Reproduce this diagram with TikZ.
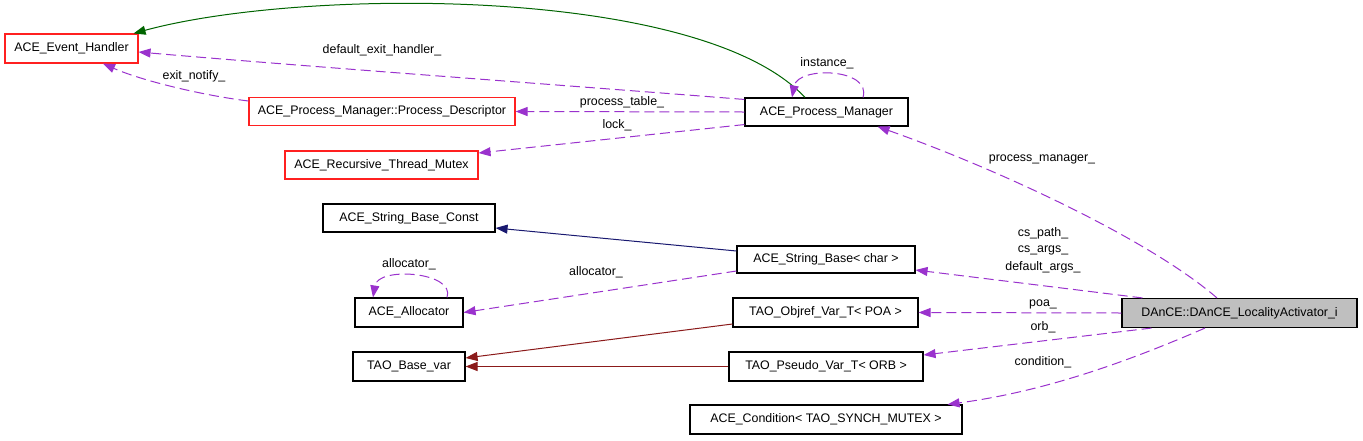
\documentclass[tikz,border=0pt]{standalone}
\usepackage{fontspec}
\setmainfont{Liberation Sans}
\usetikzlibrary{arrows.meta,calc}
\definecolor{edgepurple}{HTML}{9A32CD}
\definecolor{inhgreen}{HTML}{006400}
\definecolor{inhnavy}{HTML}{191970}
\definecolor{inhred}{HTML}{8B1A1A}
\definecolor{boxred}{HTML}{FF2020}
\definecolor{boxgray}{HTML}{BFBFBF}
\tikzset{
  cls/.style={draw=black, line width=1.1pt, fill=white, inner sep=0pt, font=\fontsize{12.4}{14}\selectfont},
  redcls/.style={cls, draw=boxred},
  lbl/.style={inner sep=0pt, font=\fontsize{12.4}{14}\selectfont},
  usage/.style={draw=edgepurple, line width=1pt, dash pattern=on 10pt off 5pt, -{Triangle[length=12pt,width=9pt,fill=edgepurple]}},
  inhg/.style={draw=inhgreen, line width=1pt, -{Triangle[length=12pt,width=9pt,fill=inhgreen]}},
  inhn/.style={draw=inhnavy, line width=1pt, -{Triangle[length=12pt,width=9pt,fill=inhnavy]}},
  inhr/.style={draw=inhred, line width=1pt, -{Triangle[length=12pt,width=9pt,fill=inhred]}},
}
\begin{document}
\begin{tikzpicture}[x=1pt,y=-1pt]
\useasboundingbox (0,0) rectangle (1363,440);
% nodes
\node[redcls, minimum width=133pt, minimum height=29pt] (eh) at (71.5,48.5) {ACE\_Event\_Handler};
\node[redcls, minimum width=266pt, minimum height=28pt] (pd) at (382,111.5) {ACE\_Process\_Manager::Process\_Descriptor};
\node[redcls, minimum width=193pt, minimum height=28pt] (mutex) at (381.5,165) {ACE\_Recursive\_Thread\_Mutex};
\node[cls, minimum width=163pt, minimum height=28pt] (pm) at (826.5,112) {ACE\_Process\_Manager};
\node[cls, minimum width=172pt, minimum height=28pt] (sbc) at (409,218) {ACE\_String\_Base\_Const};
\node[cls, minimum width=178pt, minimum height=27pt] (sb) at (826,259.5) {ACE\_String\_Base< char >};
\node[cls, minimum width=108pt, minimum height=29pt] (alloc) at (409,312.5) {ACE\_Allocator};
\node[cls, minimum width=112pt, minimum height=29pt] (basevar) at (409,366.5) {TAO\_Base\_var};
\node[cls, minimum width=185pt, minimum height=29pt] (objref) at (825.5,312.5) {TAO\_Objref\_Var\_T< POA >};
\node[cls, minimum width=194pt, minimum height=29pt] (pseudo) at (826,366.5) {TAO\_Pseudo\_Var\_T< ORB >};
\node[cls, minimum width=272pt, minimum height=29pt] (cond) at (826,419.5) {ACE\_Condition< TAO\_SYNCH\_MUTEX >};
\node[cls, fill=boxgray, minimum width=235pt, minimum height=29pt] (dance) at (1239.5,313) {DAnCE::DAnCE\_LocalityActivator\_i};

% inheritance
\draw[inhg] ([xshift=-21.5pt]pm.north) .. controls (700,-15) and (300,-12) .. ([xshift=-5pt]eh.north east);
\draw[inhn] ([yshift=8.5pt]sb.west) -- ([yshift=-10pt]sbc.east);
\draw[inhr] ([yshift=-11.5pt]objref.west) -- ([yshift=8.5pt]basevar.east);
\draw[inhr] (pseudo.west) -- (basevar.east);

% usage
\draw[usage] ([yshift=-2pt]pm.north west) .. controls (600,88) and (300,66) .. ([yshift=-3.5pt]eh.east);
\node[lbl] (l1) at (382,50) {default\_exit\_handler\_};
\draw[usage] ([yshift=10.5pt]pd.west) .. controls (200,95) and (140,80) .. ([xshift=31.5pt]eh.south);
\node[lbl] (l2) at (194,76) {exit\_notify\_};
\draw[usage] (pm.west) -- (pd.east);
\node[lbl] (l3) at (622,102) {process\_table\_};
\draw[usage] ([yshift=2pt]pm.south west) -- ([yshift=12pt]mutex.east);
\node[lbl] (l4) at (617,125) {lock\_};
\draw[usage] ([xshift=36.5pt]pm.north) .. controls (872,68) and (798,66) .. ([xshift=-34.5pt]pm.north);
\node[lbl] (l5) at (827,63) {instance\_};
\draw[usage] ([xshift=-22.5pt]dance.north) .. controls (1150,240) and (1000,170) .. ([xshift=-31pt]pm.south east);
\node[lbl] (l6) at (1042,159) {process\_manager\_};
\draw[usage] ([xshift=38pt]alloc.north) .. controls (456,272) and (378,266) .. ([xshift=-36pt]alloc.north);
\node[lbl] (l7) at (409,264) {allocator\_};
\draw[usage] ([yshift=-11.5pt]sb.west) -- (alloc.east);
\node[lbl] (l8) at (596,272) {allocator\_};
\draw[usage] ([xshift=21pt]dance.north west) -- ([yshift=-10.5pt]sb.east);
\node[lbl] (l9) at (1043,233) {cs\_path\_};
\node[lbl] (l10) at (1043,250) {cs\_args\_};
\node[lbl] (l11) at (1043,267) {default\_args\_};
\draw[usage] (dance.west) -- (objref.east);
\node[lbl] (l12) at (1043,304) {poa\_};
\draw[usage] ([xshift=30pt]dance.south west) -- ([yshift=11.5pt]pseudo.east);
\node[lbl] (l13) at (1043,327) {orb\_};
\draw[usage] ([xshift=-34.5pt]dance.south) .. controls (1120,365) and (1040,392) .. ([xshift=-15pt]cond.north east);
\node[lbl] (l14) at (1043,362) {condition\_};
\end{tikzpicture}
\end{document}
